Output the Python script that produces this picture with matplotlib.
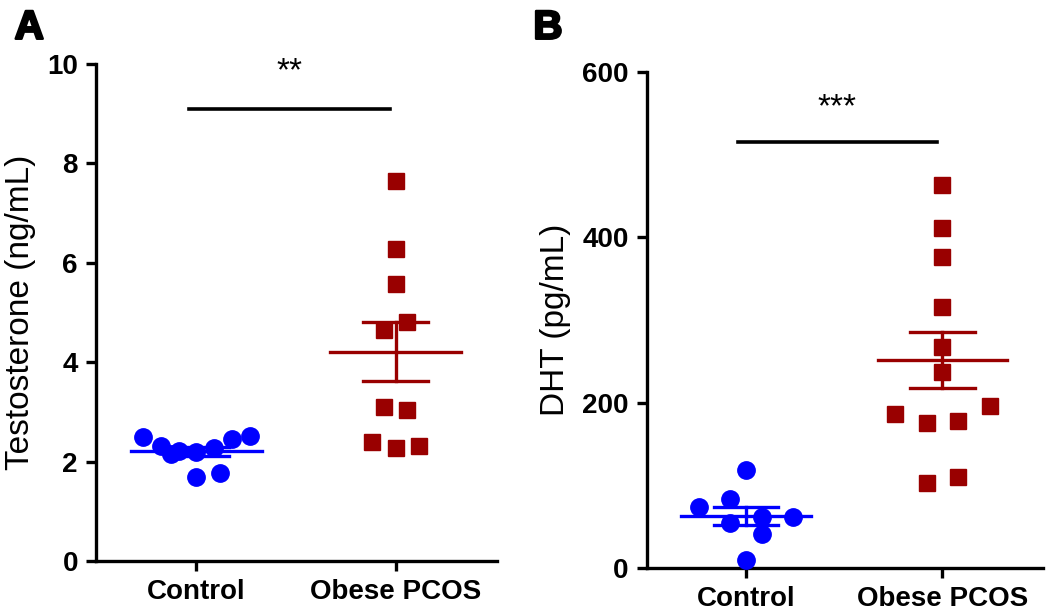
import numpy as np
import matplotlib
matplotlib.use('Agg')
import matplotlib.pyplot as plt
import matplotlib.patheffects as pe

plt.rcParams['font.family'] = ['Liberation Sans', 'DejaVu Sans']

# Dados
grupos = ['Control', 'Obese PCOS']

testo_control = [2.49, 2.31, 2.15, 2.21, 2.19, 2.27, 2.45, 2.51, 1.69, 1.77]
testo_control_jit = [-0.27, -0.18, -0.13, -0.09, 0.0, 0.09, 0.18, 0.27, 0.0, 0.12]
testo_pcos = [7.65, 6.28, 5.57, 4.65, 4.81, 3.10, 3.04, 2.39, 2.27, 2.31]
testo_pcos_jit = [0.0, 0.0, 0.0, -0.06, 0.06, -0.06, 0.06, -0.12, 0.0, 0.12]

dht_control = [118, 74, 83, 54, 62, 41, 62, 10]
dht_control_jit = [0.0, -0.24, -0.08, -0.08, 0.08, 0.08, 0.24, 0.0]
dht_pcos = [464, 412, 376, 316, 268, 237, 186, 176, 178, 196, 103, 110]
dht_pcos_jit = [0.0, 0.0, 0.0, 0.0, 0.0, 0.0, -0.24, -0.08, 0.08, 0.24, -0.08, 0.08]

azul = '#0000ff'
vermelho = '#990000'


def painel(ax, dados, jits, ylim, yticks, ylabel, sig_y, sig_txt, txt_y):
    cores = [azul, vermelho]
    marcadores = ['o', 's']
    for i, (vals, jit) in enumerate(zip(dados, jits)):
        vals = np.array(vals, dtype=float)
        ax.plot(i + np.array(jit), vals, linestyle='none', marker=marcadores[i],
                ms=12.5 if i == 0 else 12, color=cores[i], mec=cores[i],
                clip_on=False, zorder=3)
        media = vals.mean()
        sem = vals.std(ddof=1) / np.sqrt(len(vals))
        ax.plot([i - 0.33, i + 0.33], [media, media], color=cores[i], lw=2.4, zorder=4)
        ax.plot([i - 0.165, i + 0.165], [media + sem] * 2, color=cores[i], lw=2.4, zorder=4)
        ax.plot([i - 0.165, i + 0.165], [media - sem] * 2, color=cores[i], lw=2.4, zorder=4)
        ax.plot([i, i], [media - sem, media + sem], color=cores[i], lw=2.4, zorder=4)
    ax.plot([-0.04, 0.97], [sig_y, sig_y], color='black', lw=2.6, clip_on=False)
    ax.text(0.465, txt_y, sig_txt, ha='center', va='center', fontsize=24,
            fontweight='normal')
    ax.set_xlim(-0.505, 1.51)
    ax.set_ylim(*ylim)
    ax.set_yticks(yticks)
    ax.set_xticks([0, 1])
    ax.set_xticklabels(grupos)
    ax.set_ylabel(ylabel, fontsize=24, fontweight='normal', labelpad=8)
    for s in ['top', 'right']:
        ax.spines[s].set_visible(False)
    for s in ['left', 'bottom']:
        ax.spines[s].set_linewidth(2.4)
    ax.tick_params(width=2.4, length=7, labelsize=20, pad=6)
    for lab in ax.get_xticklabels() + ax.get_yticklabels():
        lab.set_fontweight('bold')


fig = plt.figure(figsize=(10.5, 6.16), dpi=100)
ax1 = fig.add_axes([0.0914, 0.0893, 0.382, 0.807])
ax2 = fig.add_axes([0.616, 0.0779, 0.377, 0.805])

painel(ax1, [testo_control, testo_pcos], [testo_control_jit, testo_pcos_jit],
       (0, 10), [0, 2, 4, 6, 8, 10], 'Testosterone (ng/mL)', 9.09, '**', 9.85)
painel(ax2, [dht_control, dht_pcos], [dht_control_jit, dht_pcos_jit],
       (0, 600), [0, 200, 400, 600], 'DHT (pg/mL)', 515, '***', 557)

grosso = [pe.withStroke(linewidth=1.8, foreground='black')]
fig.text(0.014, 0.955, 'A', fontsize=29, fontweight='bold', va='center',
         path_effects=grosso)
fig.text(0.508, 0.955, 'B', fontsize=29, fontweight='bold', va='center',
         path_effects=grosso)

fig.savefig('out.png', dpi=100)
